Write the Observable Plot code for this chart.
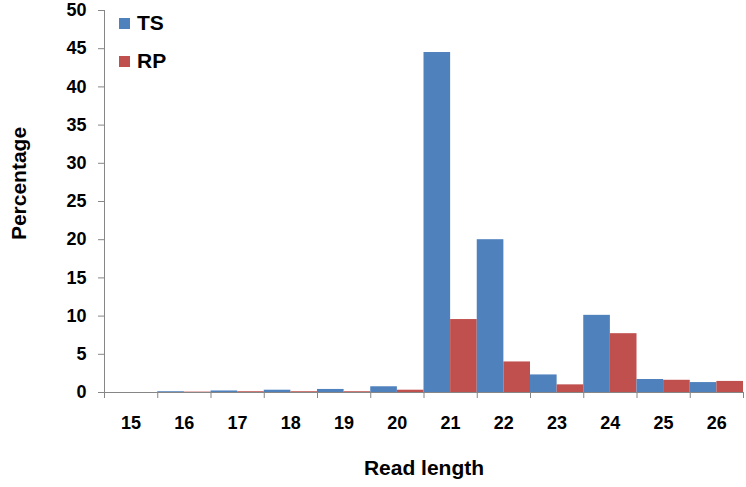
<!DOCTYPE html>
<html>
<head>
<meta charset="utf-8">
<script src="https://cdn.jsdelivr.net/npm/d3@7"></script>
<script src="https://cdn.jsdelivr.net/npm/@observablehq/plot@0.6"></script>
<style>
  body { margin: 0; background: #fff; }
  #wrap { position: relative; width: 746px; height: 487px; font-family: "Liberation Sans", Arial, sans-serif; }
  .leg { position: absolute; display: flex; align-items: center; font-weight: bold; font-size: 21px; color: #000; }
  .leg span.sw { width: 11px; height: 11px; margin-right: 7px; display: inline-block; }
</style>
</head>
<body>
<div id="wrap"></div>
<script>
const lengths = [15, 16, 17, 18, 19, 20, 21, 22, 23, 24, 25, 26];
const seriesNames = ["TS", "RP"];
const tsValues = [0.0, 0.1, 0.2, 0.3, 0.4, 0.75, 44.5, 20.0, 2.3, 10.1, 1.7, 1.3];
const rpValues = [0.0, 0.05, 0.1, 0.1, 0.1, 0.3, 9.55, 4.0, 1.0, 7.7, 1.6, 1.45];
const yTicks = [0, 5, 10, 15, 20, 25, 30, 35, 40, 45, 50];
const colors = ["#4F81BD", "#C0504D"];

const rows = [];
lengths.forEach((L, i) => {
  rows.push({len: L, series: "TS", x1: L - 0.5, x2: L, value: tsValues[i]});
  rows.push({len: L, series: "RP", x1: L, x2: L + 0.5, value: rpValues[i]});
});
const boundaries = [lengths[0] - 0.5, ...lengths.map(L => L + 0.5)];

const chart = Plot.plot({
  width: 746,
  height: 487,
  marginLeft: 104,
  marginRight: 3,
  marginTop: 10,
  marginBottom: 95,
  style: {fontFamily: "'Liberation Sans', Arial, sans-serif", background: "#fff", color: "#000"},
  x: {domain: [boundaries[0], boundaries[boundaries.length - 1]]},
  y: {domain: [0, 50]},
  color: {domain: seriesNames, range: colors},
  marks: [
    Plot.rectY(rows, {x1: "x1", x2: "x2", y: "value", fill: "series", inset: 0}),
    Plot.ruleY([0], {stroke: "#868686", strokeWidth: 1}),
    Plot.ruleX([boundaries[0]], {stroke: "#868686", strokeWidth: 1}),
    Plot.axisY({ticks: yTicks, tickSize: 6, tickPadding: 12, stroke: "#868686",
      fontSize: 18, fontWeight: "bold", label: "Percentage", labelAnchor: "center",
      labelArrow: "none", labelOffset: 93}),
    Plot.axisX({ticks: boundaries, tickSize: 6, tickFormat: () => "", stroke: "#868686", label: null}),
    Plot.axisX({ticks: lengths, tickSize: 0, tickPadding: 24, fontSize: 18, fontWeight: "bold",
      label: "Read length", labelAnchor: "center", labelArrow: "none", labelOffset: 82})
  ]
});

// font sizes for tick labels and axis titles
chart.querySelectorAll("g[aria-label='y-axis tick label'], g[aria-label='x-axis tick label']").forEach(g => {
  g.setAttribute("font-size", "18");
  g.setAttribute("font-weight", "bold");
  g.querySelectorAll("text").forEach(t => { t.setAttribute("font-size", "18"); t.setAttribute("font-weight", "bold"); });
});
chart.querySelectorAll("g[aria-label='y-axis label'], g[aria-label='x-axis label']").forEach(g => {
  g.setAttribute("font-size", "21");
  g.setAttribute("font-weight", "bold");
  g.querySelectorAll("text").forEach(t => { t.setAttribute("font-size", "21"); t.setAttribute("font-weight", "bold"); });
});
// move y title up a bit to match reference placement
const yl = chart.querySelector("g[aria-label='y-axis label'] text");
if (yl) {
  const tr = yl.getAttribute("transform") || "";
  yl.setAttribute("transform", "translate(0,-18) " + tr);
}

const wrap = document.getElementById("wrap");
wrap.appendChild(chart);

const legPos = [23, 61];
seriesNames.forEach((s, i) => {
  const d = document.createElement("div");
  d.className = "leg";
  d.style.left = "119px";
  d.style.top = (legPos[i] - 13) + "px";
  d.style.height = "26px";
  d.innerHTML = `<span class="sw" style="background:${colors[i]}"></span>${s}`;
  wrap.appendChild(d);
});
</script>
</body>
</html>
